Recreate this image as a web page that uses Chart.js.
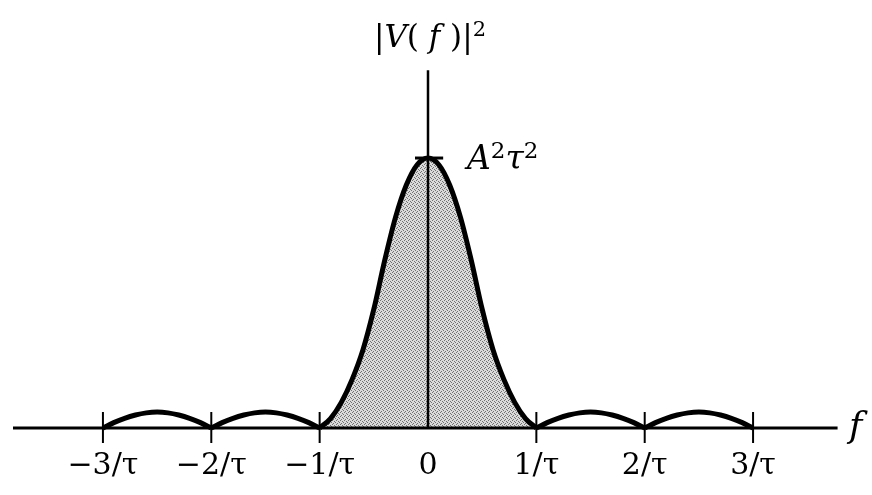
<!DOCTYPE html>
<html>
<head>
<meta charset="utf-8">
<script src="https://cdn.jsdelivr.net/npm/chart.js@4.4.1/dist/chart.umd.min.js"></script>
<style>
  html, body { margin: 0; padding: 0; background: #fff; }
  #wrap { width: 872px; height: 495px; }
</style>
</head>
<body>
<div id="wrap"><canvas id="chart1"></canvas></div>
<script>
// main lobe of |V(f)|^2, f in units of 1/tau, power in units of A^2 tau^2
const mainF = [-1, -0.9, -0.8, -0.7, -0.6, -0.5, -0.4, -0.3, -0.2, -0.1, 0,
               0.1, 0.2, 0.3, 0.4, 0.5, 0.6, 0.7, 0.8, 0.9, 1];
const mainPower = [0, 0.035, 0.095, 0.18, 0.29, 0.44, 0.62, 0.78, 0.9, 0.975, 1,
                   0.975, 0.9, 0.78, 0.62, 0.44, 0.29, 0.18, 0.095, 0.035, 0];

// side lobes, all drawn the same size
const lobeStarts = [-3, -2, 1, 2];
const lobeOffsets = [0, 0.1, 0.2, 0.3, 0.4, 0.5, 0.6, 0.7, 0.8, 0.9, 1];
const lobePower = [0, 0.02, 0.036, 0.048, 0.056, 0.059, 0.056, 0.048, 0.036, 0.02, 0];

const tickValues = [-3, -2, -1, 0, 1, 2, 3];
const tickLabels = ["\u22123/\u03c4", "\u22122/\u03c4", "\u22121/\u03c4", "0", "1/\u03c4", "2/\u03c4", "3/\u03c4"];

const serif = "'DejaVu Serif', 'Liberation Serif', serif";

// stippled grey for the shaded lobe
function stipple() {
  const c = document.createElement("canvas");
  c.width = 4; c.height = 4;
  const g = c.getContext("2d");
  g.fillStyle = "#dadada";
  g.fillRect(0, 0, 4, 4);
  g.fillStyle = "#707070";
  g.fillRect(0, 0, 1, 1);
  g.fillRect(2, 1, 1, 1);
  g.fillRect(1, 3, 1, 1);
  g.fillRect(3, 2, 1, 1);
  return g.createPattern(c, "repeat");
}

const datasets = [{
  data: mainF.map((f, i) => ({ x: f, y: mainPower[i] })),
  borderColor: "#000",
  borderWidth: 5,
  backgroundColor: stipple(),
  fill: "origin",
}];
lobeStarts.forEach((s) => {
  datasets.push({
    data: lobeOffsets.map((o, i) => ({ x: s + o, y: lobePower[i] })),
    borderColor: "#000",
    borderWidth: 5,
    fill: false,
  });
});
datasets.forEach((d) => {
  d.showLine = true;
  d.pointRadius = 0;
  d.cubicInterpolationMode = "monotone";
  d.clip = 10;
});

// draws the axes, tick marks and math labels
const axesPlugin = {
  id: "axes",
  afterDatasetsDraw(chart) {
    const ctx = chart.ctx;
    const xs = chart.scales.x, ys = chart.scales.y;
    const y0 = ys.getPixelForValue(0);
    const x0 = xs.getPixelForValue(0);
    ctx.save();
    ctx.strokeStyle = "#000";
    ctx.lineCap = "butt";

    // f axis
    ctx.lineWidth = 3;
    ctx.beginPath();
    ctx.moveTo(xs.getPixelForValue(-3.83), y0);
    ctx.lineTo(xs.getPixelForValue(3.78), y0);
    ctx.stroke();

    // power axis
    ctx.lineWidth = 2.5;
    ctx.beginPath();
    ctx.moveTo(x0, y0);
    ctx.lineTo(x0, ys.getPixelForValue(1.325));
    ctx.stroke();

    // tick marks
    ctx.lineWidth = 2;
    tickValues.forEach((v) => {
      if (v === 0) return;
      const px = xs.getPixelForValue(v);
      ctx.beginPath();
      ctx.moveTo(px, y0 - 16);
      ctx.lineTo(px, y0 + 15);
      ctx.stroke();
    });

    // peak marker
    const yp = ys.getPixelForValue(1);
    ctx.lineWidth = 3;
    ctx.beginPath();
    ctx.moveTo(xs.getPixelForValue(-0.12), yp);
    ctx.lineTo(xs.getPixelForValue(0.14), yp);
    ctx.stroke();

    ctx.fillStyle = "#000";
    ctx.textBaseline = "alphabetic";

    // writes runs of [text, font, rise] from x, returns end x
    function runs(parts, x, base) {
      parts.forEach(([t, f, rise]) => {
        ctx.font = f;
        ctx.fillText(t, x, base - (rise || 0));
        x += ctx.measureText(t).width;
      });
      return x;
    }
    function width(parts) {
      let w = 0;
      parts.forEach(([t, f]) => { ctx.font = f; w += ctx.measureText(t).width; });
      return w;
    }

    const big = "31px " + serif, ital = "italic 31px " + serif, sup = "21px " + serif;

    const title = [["|", big], ["V", ital], ["( ", big], ["f", ital], [" )|", big], ["2", sup, 11]];
    runs(title, x0 + 2 - width(title) / 2, 47);

    const lab = "italic 33px " + serif, labSup = "23px " + serif;
    runs([["A", lab], ["2", labSup, 11], ["\u03c4", lab], ["2", labSup, 11]], 467, 169);

    ctx.font = "italic 36px " + serif;
    ctx.fillText("f", 849, 437);
    ctx.restore();
  },
};

new Chart(document.getElementById("chart1"), {
  type: "scatter",
  data: { datasets: datasets },
  plugins: [axesPlugin],
  options: {
    responsive: true,
    maintainAspectRatio: false,
    animation: false,
    layout: { padding: { top: 63, right: 16, left: 0, bottom: 0 } },
    plugins: { legend: { display: false }, tooltip: { enabled: false } },
    scales: {
      x: {
        type: "linear",
        min: -3.95,
        max: 3.95,
        grid: { display: false, drawTicks: false },
        border: { display: false },
        afterFit: (scale) => { scale.height = 67; },
        afterBuildTicks: (scale) => { scale.ticks = tickValues.map((v) => ({ value: v })); },
        ticks: {
          padding: 20,
          color: "#000",
          font: { family: serif, size: 30 },
          callback: (v) => tickLabels[tickValues.indexOf(v)],
        },
      },
      y: {
        display: false,
        min: 0,
        max: 1.352,
      },
    },
  },
});
</script>
</body>
</html>
